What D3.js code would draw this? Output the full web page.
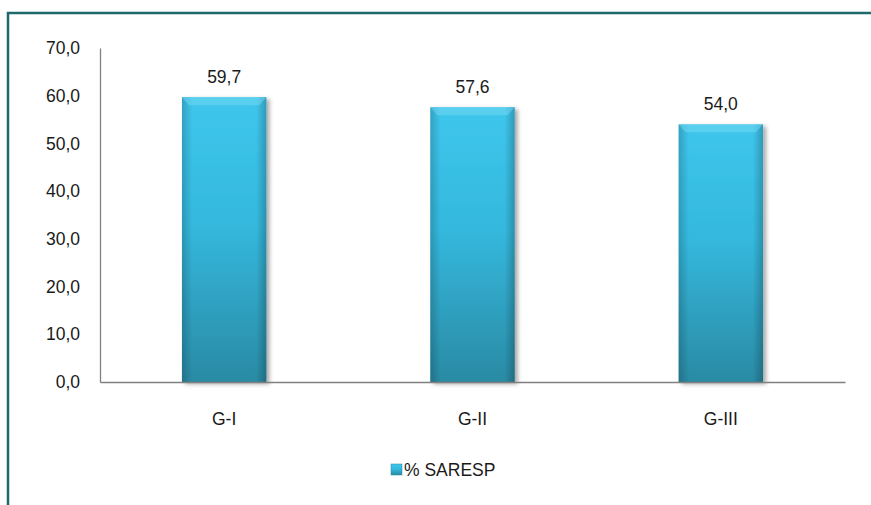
<!DOCTYPE html>
<html>
<head>
<meta charset="utf-8">
<script src="https://cdn.jsdelivr.net/npm/d3@7"></script>
<style>
  html, body { margin: 0; padding: 0; background: #fff; }
  svg { display: block; font-family: "Liberation Sans", Arial, sans-serif; }
</style>
</head>
<body>
<svg id="chart" width="871" height="505"></svg>
<script>
// Share of SARESP per group
const categories = ["G-I", "G-II", "G-III"];
const values = [59.7, 57.6, 54.0];
const yTicks = [0, 10, 20, 30, 40, 50, 60, 70];
const seriesName = "% SARESP";

const svg = d3.select("#chart");
const fmt = v => d3.format(".1f")(v).replace(".", ",");
const FS = 17.5;

// frame lines (top and left)
svg.append("line").attr("x1", 7).attr("x2", 871).attr("y1", 13).attr("y2", 13)
  .attr("stroke", "#1d6a6c").attr("stroke-width", 2.5);
svg.append("line").attr("x1", 8).attr("x2", 8).attr("y1", 12).attr("y2", 505)
  .attr("stroke", "#1d6a6c").attr("stroke-width", 2.5);

const margin = { left: 100, right: 845, top: 48, bottom: 382 };

const x = d3.scaleBand().domain(categories)
  .range([margin.left, margin.right]).paddingInner(0.66).paddingOuter(0.33);
const y = d3.scaleLinear().domain([0, 70]).range([margin.bottom, margin.top]);

// gradients
const defs = svg.append("defs");
const g = defs.append("linearGradient").attr("id", "barGrad")
  .attr("x1", 0).attr("y1", 0).attr("x2", 0).attr("y2", 1);
g.append("stop").attr("offset", "0%").attr("stop-color", "#3ec6ec");
g.append("stop").attr("offset", "45%").attr("stop-color", "#34b8dd");
g.append("stop").attr("offset", "100%").attr("stop-color", "#2a8aa4");

const side = defs.append("linearGradient").attr("id", "sideGrad")
  .attr("x1", 0).attr("y1", 0).attr("x2", 1).attr("y2", 0);
side.append("stop").attr("offset", "0%").attr("stop-color", "#000").attr("stop-opacity", 0.18);
side.append("stop").attr("offset", "12%").attr("stop-color", "#000").attr("stop-opacity", 0);
side.append("stop").attr("offset", "88%").attr("stop-color", "#000").attr("stop-opacity", 0);
side.append("stop").attr("offset", "100%").attr("stop-color", "#000").attr("stop-opacity", 0.22);

const shadow = defs.append("filter").attr("id", "shadow")
  .attr("x", "-20%").attr("y", "-10%").attr("width", "150%").attr("height", "130%");
shadow.append("feDropShadow").attr("dx", 3).attr("dy", 2).attr("stdDeviation", 2)
  .attr("flood-color", "#000").attr("flood-opacity", 0.35);

// y axis
const yAxis = d3.axisLeft(y).tickValues(yTicks).tickFormat(fmt).tickSize(0).tickPadding(20);
const ya = svg.append("g").attr("transform", `translate(${margin.left},0)`).call(yAxis);
ya.select(".domain").attr("stroke", "#808080").attr("stroke-width", 1.3);
ya.selectAll("text").attr("font-size", FS).attr("fill", "#1a1a1a")
  .attr("font-family", "Liberation Sans, Arial, sans-serif");

// bars
const bars = svg.append("g").selectAll("g").data(values).join("g");
bars.append("rect")
  .attr("x", (d, i) => x(categories[i]))
  .attr("y", d => y(d))
  .attr("width", x.bandwidth())
  .attr("height", d => y(0) - y(d))
  .attr("fill", "url(#barGrad)")
  .attr("filter", "url(#shadow)");
bars.append("rect")
  .attr("x", (d, i) => x(categories[i]))
  .attr("y", d => y(d))
  .attr("width", x.bandwidth())
  .attr("height", d => y(0) - y(d))
  .attr("fill", "url(#sideGrad)");
// top bevel
bars.append("path")
  .attr("d", (d, i) => {
    const x0 = x(categories[i]), x1 = x0 + x.bandwidth(), t = y(d);
    return `M${x0},${t}L${x1},${t}L${x1 - 7},${t + 8}L${x0 + 7},${t + 8}Z`;
  })
  .attr("fill", "#7fdcf3").attr("opacity", 0.45);

// x axis
const xAxis = d3.axisBottom(x).tickSize(0).tickPadding(31);
const xa = svg.append("g").attr("transform", `translate(0,${margin.bottom})`).call(xAxis);
xa.select(".domain").attr("stroke", "#808080").attr("stroke-width", 1.3);
xa.selectAll("text").attr("font-size", FS).attr("fill", "#1a1a1a")
  .attr("font-family", "Liberation Sans, Arial, sans-serif");

// value labels
svg.append("g").selectAll("text").data(values).join("text")
  .attr("x", (d, i) => x(categories[i]) + x.bandwidth() / 2)
  .attr("y", d => y(d) - 14)
  .attr("text-anchor", "middle")
  .attr("font-size", FS).attr("fill", "#1a1a1a")
  .text(fmt);

// legend
const lg = svg.append("g").attr("transform", "translate(391,464)");
lg.append("rect").attr("width", 11).attr("height", 11).attr("fill", "url(#barGrad)")
  .attr("stroke", "#2a8aa4").attr("stroke-width", 0.5);
lg.append("text").attr("x", 13).attr("y", 12).attr("font-size", FS)
  .attr("fill", "#1a1a1a").text(seriesName);
</script>
</body>
</html>
